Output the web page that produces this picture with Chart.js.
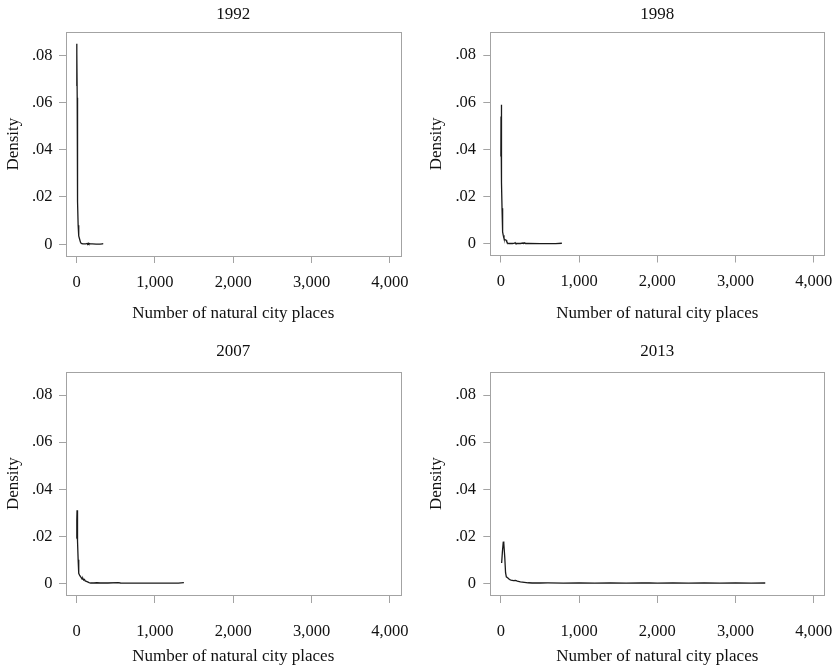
<!DOCTYPE html>
<html>
<head>
<meta charset="utf-8">
<title>Density of natural city places</title>
<script src="https://cdn.jsdelivr.net/npm/chart.js@4.4.1/dist/chart.umd.min.js"></script>
<style>
  html, body { margin: 0; padding: 0; background: #fff; }
  #wrap { position: relative; width: 837px; height: 667px; overflow: hidden; }
  canvas { position: absolute; }
</style>
</head>
<body>
<div id="wrap">
  <canvas id="c1992" width="418" height="335" style="left:0;top:0"></canvas>
  <canvas id="c1998" width="419" height="335" style="left:418px;top:0"></canvas>
  <canvas id="c2007" width="418" height="332" style="left:0;top:335px"></canvas>
  <canvas id="c2013" width="419" height="332" style="left:418px;top:335px"></canvas>
</div>
<script>
// axes
const xTicks = [0, 1000, 2000, 3000, 4000];
const xTickLabels = ['0', '1,000', '2,000', '3,000', '4,000'];
const yTicks = [0, 0.02, 0.04, 0.06, 0.08];
const yTickLabels = ['0', '.02', '.04', '.06', '.08'];
const xLimits = [-135, 4135];
const yLimits = [-0.005, 0.0897];
const xTitle = 'Number of natural city places';
const yTitle = 'Density';

// kernel density curves
const x1992 = [0, 1, 3, 5, 8, 10, 12, 15, 20, 25, 30, 40, 50, 60, 80, 100, 120, 135, 142, 150, 158, 165, 175, 200, 250, 300, 330, 340];
const y1992 = [0.067, 0.079, 0.0849, 0.081, 0.062, 0.046, 0.031, 0.018, 0.008, 0.005, 0.0035, 0.002, 0.0008, 0.0003, 0.0001, 0.0001, 0.0001, 0.0003, 0.0001, 0.0004, 0.0001, 0.0003, 0.0001, 0.0001, 0.00005, 0.00005, 0.0001, 0.0003];

const x1998 = [0, 2, 4, 6, 8, 10, 12, 15, 20, 25, 30, 40, 50, 60, 68, 75, 85, 100, 150, 175, 182, 190, 250, 285, 295, 305, 315, 350, 500, 700, 780];
const y1998 = [0.037, 0.054, 0.059, 0.055, 0.046, 0.036, 0.026, 0.015, 0.0075, 0.005, 0.0036, 0.0022, 0.0017, 0.0016, 0.0015, 0.0009, 0.0003, 0.0001, 0.0001, 0.0002, 0.0004, 0.0001, 0.0001, 0.0003, 0.0002, 0.0004, 0.0001, 0.0001, 0.00005, 0.00005, 0.0002];

const x2007 = [0, 3, 6, 9, 12, 15, 20, 25, 30, 40, 50, 60, 70, 80, 90, 100, 110, 125, 140, 160, 180, 220, 260, 300, 400, 530, 560, 700, 900, 1100, 1300, 1370];
const y2007 = [0.019, 0.027, 0.031, 0.030, 0.025, 0.018, 0.010, 0.0055, 0.0042, 0.0033, 0.0028, 0.0024, 0.0018, 0.0021, 0.0014, 0.0016, 0.0010, 0.0008, 0.0006, 0.0003, 0.0001, 0.0001, 0.0002, 0.0001, 0.0001, 0.0003, 0.0001, 0.00005, 0.00005, 0.00005, 0.00005, 0.0003];

const x2013 = [10, 20, 30, 35, 40, 50, 60, 70, 90, 110, 130, 160, 190, 210, 250, 300, 350, 400, 500, 600, 800, 1000, 1200, 1400, 1600, 1800, 1900, 2000, 2200, 2400, 2600, 2800, 3000, 3200, 3380];
const y2013 = [0.0086, 0.0135, 0.0172, 0.0178, 0.0170, 0.011, 0.0045, 0.0027, 0.0022, 0.0016, 0.0013, 0.0011, 0.0012, 0.0009, 0.0006, 0.0004, 0.0002, 0.0001, 0.0001, 0.00012, 0.00008, 0.0001, 0.00008, 0.0001, 0.00008, 0.0001, 0.00015, 0.00008, 0.0001, 0.00008, 0.0001, 0.00008, 0.0001, 0.00008, 0.0001];

const FONT = "'Liberation Serif', 'Times New Roman', serif";
const TEXT = '#111';
const FRAME = '#a3a3a3';

const framePlugin = {
  id: 'frame',
  beforeDatasetsDraw(chart) {
    const { ctx, chartArea: a } = chart;
    ctx.save();
    ctx.strokeStyle = FRAME;
    ctx.lineWidth = 1;
    ctx.strokeRect(Math.round(a.left) + 0.5, Math.round(a.top) + 0.5,
      Math.round(a.right - a.left), Math.round(a.bottom - a.top));
    ctx.restore();
  },
};

// g: where the plot frame sits inside each canvas, plus text paddings
function makePanel(id, title, xs, ys, g) {
  const canvas = document.getElementById(id);
  const w = canvas.width;
  const h = canvas.height;
  return new Chart(canvas, {
    type: 'line',
    data: {
      datasets: [{
        data: xs.map((x, i) => ({ x, y: ys[i] })),
        borderColor: '#1a1a1a',
        borderWidth: 1.3,
        pointRadius: 0,
        tension: 0,
        fill: false,
      }],
    },
    plugins: [framePlugin],
    options: {
      responsive: false,
      animation: false,
      events: [],
      layout: { padding: { left: 0, top: 0, right: w - g.right, bottom: 0 } },
      plugins: {
        legend: { display: false },
        tooltip: { enabled: false },
        title: {
          display: true,
          text: title,
          fullSize: false,
          color: TEXT,
          font: { family: FONT, size: 17, weight: 'normal' },
          padding: { top: g.titleTop, bottom: g.top - g.titleTop - 20.4 },
        },
      },
      scales: {
        x: {
          type: 'linear',
          min: xLimits[0],
          max: xLimits[1],
          afterBuildTicks: (s) => { s.ticks = xTicks.map((v) => ({ value: v })); },
          afterFit: (s) => {
            s.height = h - g.bottom;
            s.paddingLeft = 0;
            s.paddingRight = 0;
          },
          border: { display: false },
          grid: { drawOnChartArea: false, drawTicks: true, tickLength: g.xTickLen, color: FRAME },
          ticks: {
            padding: g.xTickPad,
            maxRotation: 0,
            autoSkip: false,
            color: TEXT,
            font: { family: FONT, size: 16.5 },
            callback: (v) => xTickLabels[xTicks.indexOf(v)],
          },
          title: {
            display: true,
            text: xTitle,
            color: TEXT,
            font: { family: FONT, size: 17 },
            padding: { top: 0, bottom: g.xTitlePad },
          },
        },
        y: {
          type: 'linear',
          min: yLimits[0],
          max: yLimits[1],
          afterBuildTicks: (s) => { s.ticks = yTicks.map((v) => ({ value: v })); },
          afterFit: (s) => {
            s.width = g.left;
            s.paddingTop = 0;
            s.paddingBottom = 0;
          },
          border: { display: false },
          grid: { drawOnChartArea: false, drawTicks: true, tickLength: 7, color: FRAME },
          ticks: {
            padding: g.yTickPad,
            autoSkip: false,
            color: TEXT,
            font: { family: FONT, size: 16.5 },
            callback: (v) => yTickLabels[yTicks.indexOf(v)],
          },
          title: {
            display: true,
            text: yTitle,
            color: TEXT,
            font: { family: FONT, size: 17 },
            padding: { top: g.yTitlePad, bottom: 0 },
          },
        },
      },
    },
  });
}

const topLeft = { left: 66, right: 400.5, top: 32.3, bottom: 256, titleTop: 4.8, yTitlePad: 3.8, yTickPad: 6.5, xTickLen: 7, xTickPad: 9.6, xTitlePad: 11.5 };
const topRight = { left: 72.3, right: 406.3, top: 32.3, bottom: 255.5, titleTop: 4.8, yTitlePad: 8.5, yTickPad: 7.3, xTickLen: 7, xTickPad: 9.6, xTitlePad: 11.5 };
const botLeft = { left: 66, right: 400.5, top: 37.3, bottom: 260, titleTop: 6.8, yTitlePad: 3.8, yTickPad: 6.5, xTickLen: 8, xTickPad: 18.5, xTitlePad: 0.1 };
const botRight = { left: 72.3, right: 406.3, top: 37.3, bottom: 260, titleTop: 6.8, yTitlePad: 8.5, yTickPad: 7.3, xTickLen: 8, xTickPad: 18.5, xTitlePad: 0.1 };

makePanel('c1992', '1992', x1992, y1992, topLeft);
makePanel('c1998', '1998', x1998, y1998, topRight);
makePanel('c2007', '2007', x2007, y2007, botLeft);
makePanel('c2013', '2013', x2013, y2013, botRight);
</script>
</body>
</html>
